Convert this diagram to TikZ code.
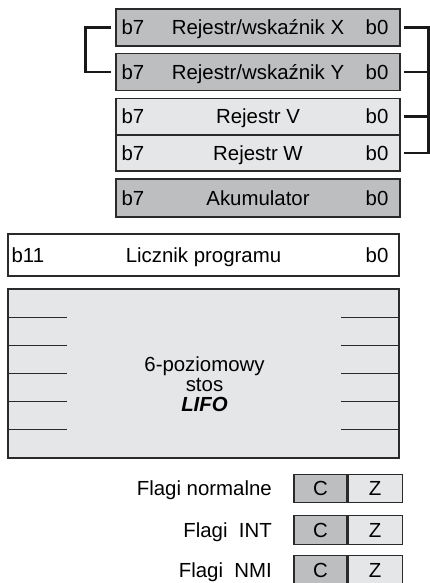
\documentclass[tikz,border=0pt]{standalone}
\usepackage{fontspec}
\setmainfont{Liberation Sans}
\definecolor{darkfill}{HTML}{BDBEC0}
\definecolor{lightfill}{HTML}{E5E6E7}
\definecolor{edge}{HTML}{2A2A2A}
\tikzset{
  txt/.style={inner sep=0pt, text height=14.6pt, text depth=0pt, font=\fontsize{20.4}{20}\selectfont},
  reg/.style={txt, draw=edge, line width=1.1pt, minimum width=284pt, minimum height=37pt},
  wide/.style={txt, draw=edge, line width=1.1pt, minimum width=391pt},
  cell/.style={txt, draw=edge, line width=1.1pt, minimum height=28.5pt},
  bracket/.style={draw=black!90, line width=2.4pt},
  tick/.style={draw=edge, line width=1pt},
}
\begin{document}
\begin{tikzpicture}[x=1pt,y=-1pt]
\useasboundingbox (0,0) rectangle (430,583);

% registers
\node[reg, fill=darkfill]  (X) at (258,27.5) {Rejestr/wskaźnik X};
\node[reg, fill=darkfill]  (Y) at (258,72)   {Rejestr/wskaźnik Y};
\node[reg, fill=lightfill, minimum height=36.5pt] (V) at (258,116.5) {Rejestr V};
\node[reg, fill=lightfill, minimum height=36pt] (W) at (258,153)   {Rejestr W};
\node[reg, fill=darkfill, minimum height=38pt]  (A) at (258,198)   {Akumulator};

\foreach \r in {X,Y,V,W,A}{
  \node[txt, anchor=west] (\r b7) at ([xshift=6pt]\r.west) {b7};
  \node[txt, anchor=east] (\r b0) at ([xshift=-12pt]\r.east) {b0};
}

% brackets
\draw[bracket] ([xshift=-4pt]X.west) -- ++(-26,0) |- ([xshift=-4pt]Y.west);
\draw[bracket] ([xshift=3pt]X.east) -- ++(25,0) |- ([xshift=3pt]W.east);
\draw[bracket] ([xshift=3pt]Y.east) -- ++(25,0);
\draw[bracket] ([xshift=3pt]V.east) -- ++(25,0);

% program counter
\node[wide, fill=white, minimum height=42pt] (PC) at (203.5,255) {Licznik programu};
\node[txt, anchor=west] (PCb11) at ([xshift=4pt]PC.west) {b11};
\node[txt, anchor=east] (PCb0) at ([xshift=-11pt]PC.east) {b0};

% stack
\node[wide, fill=lightfill, minimum height=169pt, text height=0pt] (S) at (203.5,373.5) {};
\foreach \yy in {317,345,373,401,429}{
  \draw[tick] (S.west |- 0,\yy) -- ++(60,0);
  \draw[tick] (S.east |- 0,\yy) -- ++(-59,0);
}
\node[inner sep=0pt, align=center, anchor=base, font=\fontsize{20.4}{20}\selectfont] (ST) at (204.5,411)
  {6-poziomowy\\stos\\\textbf{\textit{LIFO}}};

% flags
\foreach \n/\lab/\yy in {1/Flagi normalne/488.5, 2/Flagi~~INT/530, 3/Flagi~~NMI/570}{
  \node[cell, fill=darkfill, minimum width=53pt] (C\n) at (320.5,\yy) {C};
  \node[cell, fill=lightfill, minimum width=54pt, anchor=west] (Z\n) at (C\n.east) {Z};
  \node[txt, anchor=east] (L\n) at (272,\yy) {\lab};
}
\end{tikzpicture}
\end{document}
